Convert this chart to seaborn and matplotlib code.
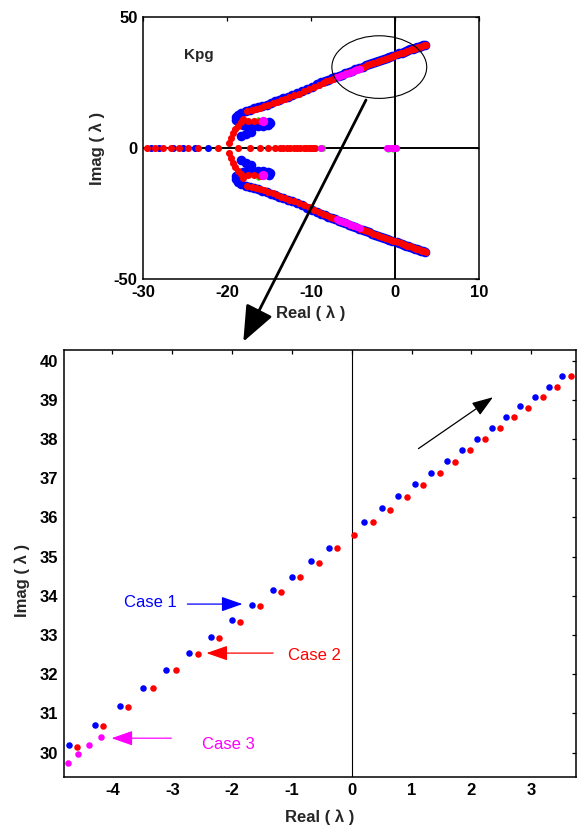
import matplotlib
matplotlib.use("Agg")
import numpy as np
import pandas as pd
import matplotlib.pyplot as plt
import seaborn as sns
from matplotlib.patches import Ellipse

# ---------------- eigenvalue data ----------------
# zoomed view: upper branch near the imaginary axis
case1_re = [-4.719, -4.288, -3.881, -3.491, -3.105, -2.714, -2.352, -2.005, -1.665, -1.318,
            -1.0, -0.682, -0.386, 0.211, 0.508, 0.781, 1.060, 1.328, 1.585, 1.836,
            2.087, 2.338, 2.585, 2.819, 3.065, 3.294, 3.523]
case1_im = [30.19, 30.71, 31.19, 31.64, 32.10, 32.55, 32.96, 33.38, 33.77, 34.15,
            34.49, 34.88, 35.23, 35.89, 36.23, 36.55, 36.86, 37.14, 37.45, 37.73,
            38.01, 38.28, 38.56, 38.84, 39.08, 39.33, 39.61]
case2_re = [-4.585, -4.154, -3.742, -3.328, -2.943, -2.575, -2.211, -1.871, -1.531, -1.189,
            -0.866, -0.543, -0.246, 0.044, 0.351, 0.647, 0.921, 1.194, 1.468, 1.719,
            1.970, 2.222, 2.473, 2.719, 2.953, 3.204, 3.434, 3.662]
case2_im = [30.15, 30.67, 31.16, 31.64, 32.10, 32.52, 32.93, 33.34, 33.73, 34.11,
            34.49, 34.85, 35.23, 35.54, 35.89, 36.19, 36.51, 36.82, 37.14, 37.42,
            37.73, 38.01, 38.28, 38.56, 38.80, 39.08, 39.33, 39.61]
case3_re = [-4.747, -4.568, -4.384, -4.199]
case3_im = [29.74, 29.97, 30.19, 30.39]

# full locus (upper half plane; lower half is the conjugate)
case1_far_re = [-5.12, -5.52, -5.92, -6.33, -6.73, -7.14, -7.55, -7.96, -8.37, -8.78,
                -9.3, -9.9, -10.5, -11.1, -11.7, -12.3, -12.8, -13.3, -13.8, -14.3,
                -14.8, -15.3, -15.8, -16.3, -16.8, -17.3, -17.8, -18.3, -18.7, -18.9,
                -18.9, -18.6, -18.1, -17.5, -16.9, -16.3, -15.7, -15.2, -14.9, -15.0,
                -18.3, -17.8, -17.2]
case1_far_im = [29.68, 29.17, 28.66, 28.16, 27.66, 27.15, 26.65, 26.14, 25.64, 25.13,
                24.4, 23.5, 22.6, 21.8, 21.0, 20.3, 19.7, 19.1, 18.5, 17.9,
                17.3, 16.7, 16.2, 15.7, 15.2, 14.7, 14.2, 13.6, 12.8, 11.8,
                10.7, 9.6, 8.9, 8.6, 8.5, 8.5, 8.6, 8.9, 9.5, 10.2,
                4.6, 5.6, 6.4]
case1_axis = [-29.08, -28.09, -26.42, -25.23, -23.83, -22.25]

case2_far_re = [-5.0, -5.4, -5.8, -6.2, -6.6, -7.0, -7.4, -7.8, -8.2, -8.6,
                -9.1, -9.7, -10.3, -10.9, -11.5, -12.1, -12.6, -13.1, -13.6, -14.1,
                -14.6, -15.1, -15.6, -16.1, -16.6, -17.1, -17.6,
                -19.75, -19.58, -19.34, -19.07, -18.75, -18.4, -18.08,
                -17.5, -16.8, -16.1]
case2_far_im = [29.63, 29.1, 28.6, 28.1, 27.6, 27.1, 26.6, 26.1, 25.6, 25.1,
                24.3, 23.4, 22.5, 21.7, 20.9, 20.2, 19.6, 19.0, 18.4, 17.8,
                17.1, 16.5, 16.0, 15.5, 15.1, 14.7, 14.3,
                1.9, 3.8, 5.7, 7.25, 8.6, 9.9, 11.2,
                10.3, 10.3, 10.4]
case2_axis = [-29.52, -28.6, -27.69, -26.73, -25.78, -24.63, -23.44, -21.06, -18.67, -17.28,
              -16.1, -15.1, -14.3, -13.7, -13.3, -12.9, -12.5, -12.1, -11.7, -11.3,
              -10.9, -10.6, -10.3, -10.0, -9.75, -9.55]

case3_far_re = [-6.95, -6.76, -6.57, -6.38, -6.2, -6.02, -5.83, -5.65, -5.47, -5.29,
                -5.11, -4.93]
case3_far_im = [27.15, 27.38, 27.6, 27.82, 28.04, 28.26, 28.47, 28.68, 28.89, 29.1,
                29.31, 29.52]
case3_axis = [-8.86, -0.99, -0.7, -0.4, -0.1, 0.15]
case3_pole_re = [-15.7, -15.7]
case3_pole_im = [10.3, -10.3]

case4_re = [-16.3, -12.7, -8.6, -8.9, -0.9, -0.3, 0.2]
case4_im = [11.3, 0.3, 0.4, -0.4, 0.5, 0.6, 0.4]

x_ticks_top = [-30, -20, -10, 0, 10]
y_ticks_top = [-50, 0, 50]
x_ticks_bot = [-4, -3, -2, -1, 0, 1, 2, 3]
y_ticks_bot = [30, 31, 32, 33, 34, 35, 36, 37, 38, 39, 40]

BLUE, RED, MAG, GRN = "#0000ff", "#ff0000", "#ff00ff", "#00ee00"


def full_locus(branch_re, branch_im, axis_re):
    re = np.array(list(branch_re) + list(axis_re), dtype=float)
    im = np.array(list(branch_im) + [0.0] * len(axis_re), dtype=float)
    n = len(branch_re)
    re = np.concatenate([re, re[:n]])
    im = np.concatenate([im, -im[:n]])
    return pd.DataFrame({"re": re, "im": im})


locus1 = full_locus(case1_far_re + case1_re, case1_far_im + case1_im, [])
axis1 = pd.DataFrame({"re": case1_axis, "im": [0.0] * len(case1_axis)})
locus2 = full_locus(case2_far_re + case2_re, case2_far_im + case2_im, case2_axis)
locus3 = full_locus(case3_far_re + case3_re, case3_far_im + case3_im, case3_axis)
pole3 = pd.DataFrame({"re": case3_pole_re, "im": case3_pole_im})
locus4 = pd.DataFrame({"re": case4_re + case4_re, "im": case4_im + [-v for v in case4_im]})

zoom1 = pd.DataFrame({"re": case1_re, "im": case1_im})
zoom2 = pd.DataFrame({"re": case2_re, "im": case2_im})
zoom3 = pd.DataFrame({"re": case3_re, "im": case3_im})

# ---------------- style ----------------
sns.set_style("white")
plt.rcParams["font.family"] = ["Liberation Sans", "DejaVu Sans"]
plt.rcParams.update({
    "axes.unicode_minus": False,
    "xtick.direction": "in", "ytick.direction": "in",
    "xtick.top": True, "ytick.right": True,
    "xtick.major.size": 3, "ytick.major.size": 3,
    "xtick.major.width": 0.9, "ytick.major.width": 0.9,
    "axes.edgecolor": "black", "axes.linewidth": 1.1,
})

FS = 12
fig = plt.figure(figsize=(5.77, 8.25), dpi=100)
W, H = 577.0, 825.0
ax_top = fig.add_axes([143.3 / W, 1 - 279.3 / H, (479 - 143.3) / W, (279.3 - 17.3) / H])
ax_bot = fig.add_axes([64 / W, 1 - 777 / H, (576 - 64) / W, (777 - 350) / H])


def style_axes(ax, xt, yt):
    ax.set_xticks(xt)
    ax.set_yticks(yt)
    ax.set_xticklabels([str(v) for v in xt])
    ax.set_yticklabels([str(v) for v in yt])
    ax.tick_params(labelsize=FS, pad=4, colors="black")
    for lbl in ax.get_xticklabels() + ax.get_yticklabels():
        lbl.set_fontweight("bold")
    for s in ax.spines.values():
        s.set_visible(True)
        s.set_color("black")
    ax.set_xlabel("Real ( λ )", fontsize=FS, fontweight="bold")
    ax.set_ylabel("Imag ( λ )", fontsize=FS, fontweight="bold")


# ---------------- full root locus ----------------
ax_top.axhline(0, color="black", lw=1.4, zorder=1)
ax_top.axvline(0, color="black", lw=1.4, zorder=1)
sns.scatterplot(data=locus1, x="re", y="im", color=BLUE, s=48, linewidth=0, ax=ax_top, zorder=2)
sns.scatterplot(data=axis1, x="re", y="im", color=BLUE, s=26, linewidth=0, ax=ax_top, zorder=2)
sns.scatterplot(data=locus4, x="re", y="im", color=GRN, s=10, linewidth=0, ax=ax_top, zorder=3)
sns.scatterplot(data=locus2, x="re", y="im", color=RED, s=26, linewidth=0, ax=ax_top, zorder=4)
sns.scatterplot(data=locus3, x="re", y="im", color=MAG, s=26, linewidth=0, ax=ax_top, zorder=5)
sns.scatterplot(data=pole3, x="re", y="im", color=MAG, s=45, linewidth=0, ax=ax_top, zorder=5)
ax_top.set_xlim(-30, 10)
ax_top.set_ylim(-50, 50)
style_axes(ax_top, x_ticks_top, y_ticks_top)
ax_top.xaxis.set_label_coords(0.5, -0.098)
ax_top.yaxis.set_label_coords(-0.114, 0.5)
ax_top.text(-25.2, 35.6, "Kpg", fontsize=11, fontweight="bold", va="center", ha="left")
ax_top.add_patch(Ellipse((-1.88, 31.0), 11.3, 23.9, fill=False, ec="black", lw=0.8, zorder=6))

# ---------------- zoomed view ----------------
ax_bot.axvline(0, color="black", lw=0.8, zorder=1)
sns.scatterplot(data=zoom1, x="re", y="im", color=BLUE, s=22, linewidth=0, ax=ax_bot, zorder=3)
sns.scatterplot(data=zoom2, x="re", y="im", color=RED, s=22, linewidth=0, ax=ax_bot, zorder=3)
sns.scatterplot(data=zoom3, x="re", y="im", color=MAG, s=22, linewidth=0, ax=ax_bot, zorder=3)
ax_bot.set_xlim(-4.81, 3.75)
ax_bot.set_ylim(29.38, 40.27)
style_axes(ax_bot, x_ticks_bot, y_ticks_bot)
ax_bot.xaxis.set_label_coords(0.5, -0.077)
ax_bot.yaxis.set_label_coords(-0.066, 0.46)

head = "-|>,head_length=1.0,head_width=0.35"
for txt, col, tx, ty, a0, a1, ay in [
    ("Case 1", BLUE, -3.80, 33.82, -2.747, -1.826, 33.79),
    ("Case 2", RED, -1.07, 32.49, -1.313, -2.429, 32.54),
    ("Case 3", MAG, -2.51, 30.20, -3.015, -4.015, 30.37),
]:
    ax_bot.text(tx, ty, txt, color=col, fontsize=12, ha="left", va="center")
    ax_bot.annotate("", xy=(a1, ay), xytext=(a0, ay),
                    arrowprops=dict(arrowstyle=head, color=col, lw=0.9,
                                    mutation_scale=13, shrinkA=0, shrinkB=0))

ax_bot.annotate("", xy=(2.362, 39.066), xytext=(1.116, 37.755),
                arrowprops=dict(arrowstyle=head, color="black", lw=0.9,
                                mutation_scale=13, shrinkA=0, shrinkB=0))

# pointer from the circled region down to the zoomed view
ax_bot.annotate("", xy=(243.3, H - 341.7), xycoords="figure pixels",
                xytext=(366, H - 100), textcoords="figure pixels",
                arrowprops=dict(arrowstyle="-|>,head_length=1.1,head_width=0.45",
                                color="black", lw=2, mutation_scale=20,
                                shrinkA=0, shrinkB=0),
                annotation_clip=False)

fig.savefig("out.png", dpi=100)
